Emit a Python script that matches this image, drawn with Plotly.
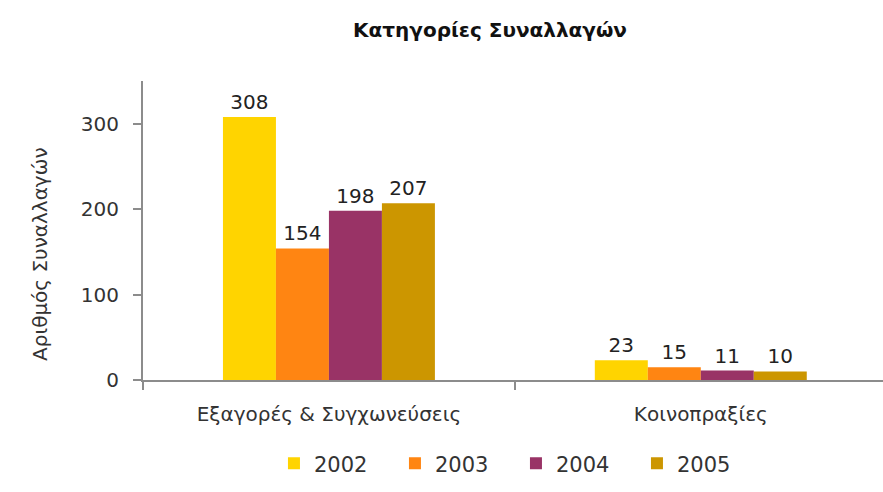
import plotly.graph_objects as go

# Deal categories and yearly counts
categories = ["Εξαγορές & Συγχωνεύσεις", "Κοινοπραξίες"]
years = ["2002", "2003", "2004", "2005"]
counts_2002 = [308, 23]
counts_2003 = [154, 15]
counts_2004 = [198, 11]
counts_2005 = [207, 10]
series = [counts_2002, counts_2003, counts_2004, counts_2005]
colors = ["#FFD400", "#FF8512", "#993366", "#CC9600"]

FONT = "DejaVu Sans, Verdana, sans-serif"
AXIS_GREY = "#8c8c8c"

fig = go.Figure()
for year, vals, col in zip(years, series, colors):
    fig.add_trace(go.Bar(
        name=year,
        x=categories,
        y=vals,
        marker=dict(color=col, line=dict(width=0)),
        text=[str(v) for v in vals],
        textposition="outside",
        textfont=dict(family=FONT, size=20, color="#222222"),
        cliponaxis=False,
    ))

fig.update_layout(
    width=883, height=492,
    margin=dict(l=143, r=0, t=81, b=112),
    paper_bgcolor="white", plot_bgcolor="white",
    barmode="group", bargap=0.43, bargroupgap=0,
    title=dict(
        text="<b>Κατηγορίες Συναλλαγών</b>",
        font=dict(family=FONT, size=20, color="#111111"),
        x=0.555, xref="container", xanchor="center",
        y=0.939, yref="container", yanchor="middle",
    ),
    xaxis=dict(
        range=[-0.5, 1.49],
        showline=True, linecolor=AXIS_GREY, linewidth=2,
        ticks="outside", tickson="boundaries", ticklen=8, tickcolor=AXIS_GREY, tickwidth=2,
        tickfont=dict(family=FONT, size=20, color="#333333"),
        ticklabelstandoff=15,
        showgrid=False, zeroline=False,
    ),
    yaxis=dict(
        range=[0, 350],
        tickvals=[0, 100, 200, 300],
        showline=True, linecolor=AXIS_GREY, linewidth=2,
        ticks="outside", ticklen=8, tickcolor=AXIS_GREY, tickwidth=2,
        tickfont=dict(family=FONT, size=20, color="#333333"),
        ticklabelstandoff=10,
        showgrid=False, zeroline=False,
    ),
    legend=dict(
        orientation="h",
        x=0.504, xanchor="center", xref="paper",
        y=-0.28, yanchor="middle",
        font=dict(family=FONT, size=21, color="#333333"),
        entrywidth=76, entrywidthmode="pixels",
        traceorder="normal",
    ),
    annotations=[dict(
        text="Αριθμός Συναλλαγών",
        textangle=-90,
        xref="paper", yref="paper",
        x=(40 - 143) / 740, y=(380 - 254) / 299,
        xanchor="center", yanchor="middle",
        showarrow=False,
        font=dict(family=FONT, size=20, color="#333333"),
    )],
)

fig.write_html("out.html")
